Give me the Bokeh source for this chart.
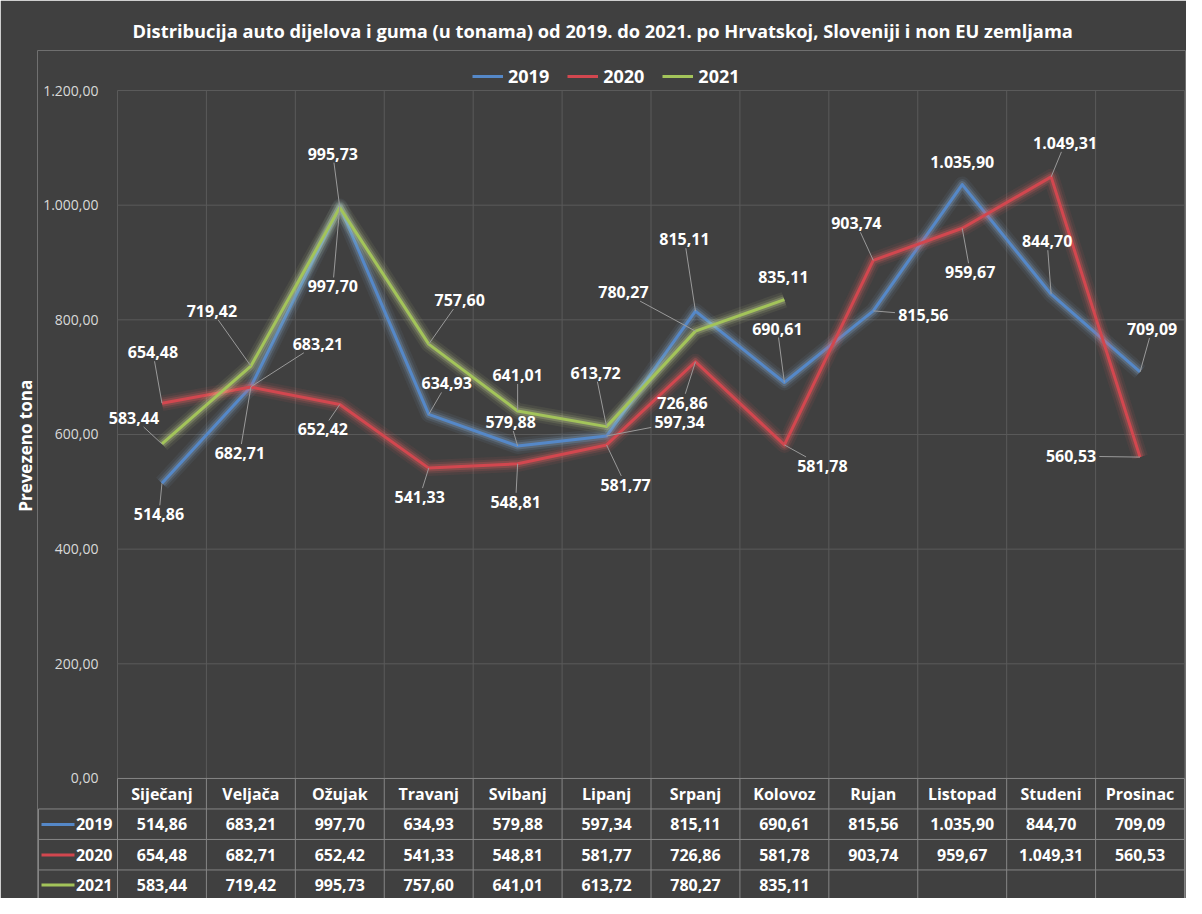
import math
from bokeh.plotting import figure
from bokeh.models import ColumnDataSource, Range1d, FixedTicker, Legend, LegendItem
from bokeh.core.properties import value
from bokeh.embed import file_html
from bokeh.resources import INLINE

# ---------------- data ----------------
months = ["Siječanj", "Veljača", "Ožujak", "Travanj", "Svibanj", "Lipanj",
          "Srpanj", "Kolovoz", "Rujan", "Listopad", "Studeni", "Prosinac"]
series_names = ["2019", "2020", "2021"]
v2019 = [514.86, 683.21, 997.70, 634.93, 579.88, 597.34, 815.11, 690.61, 815.56, 1035.90, 844.70, 709.09]
v2020 = [654.48, 682.71, 652.42, 541.33, 548.81, 581.77, 726.86, 581.78, 903.74, 959.67, 1049.31, 560.53]
v2021 = [583.44, 719.42, 995.73, 757.60, 641.01, 613.72, 780.27, 835.11]
y_ticks = [0, 200, 400, 600, 800, 1000, 1200]

title_text = ("Distribucija auto dijelova i guma (u tonama) od 2019. do 2021. "
              "po Hrvatskoj, Sloveniji i non EU zemljama")
y_title = "Prevezeno tona"

# ---------------- label placement (screen px offsets from the point: right, down) ----------------
off2019 = [(-3, 31), (67, -43), (-7, 80), (18, -31), (-7, -24), (73, -14),
           (-11, -72), (-7, -54), (50, 4), (0, -23), (-4, -53), (12, -43)]
off2020 = [(-9, -51), (-11, 66), (-17, 25), (-9, 29), (-2, 38), (19, 40),
           (-13, 41), (38, 21), (-17, -37), (8, 44), (14, -34), (-69, -1)]
off2021 = [(-28, -26), (-39, -55), (-7, -54), (31, -44), (0, -36), (-11, -54),
           (-72, -39), (-1, -23)]

# ---------------- styles ----------------
BG = "#404040"
GRID = "#5a5a5a"
TABLE_LINE = "#858585"
LEADER = "#9a9a9a"
TXT = "#ffffff"
FONT = "Open Sans"
line_colors = ["#5588C8", "#D2474F", "#A3C45A"]
glow_colors = ["#8EB4E3", "#FF5F5F", "#DCEB9A"]

# ---------------- geometry ----------------
W, H = 1186, 898
B_L, B_R, B_T, B_B = 37, 1, 50, 0
FRAME_W = W - B_L - B_R
FRAME_H = H - B_T - B_B
TOP_PAD_PX = 40                      # frame top -> 1200 gridline (legend lives here)
LEFT_COL_PX = 80                     # frame left -> plot area left
X_PX = (FRAME_W - LEFT_COL_PX - 1) / len(months)
x_start = -0.5 - LEFT_COL_PX / X_PX
x_end = x_start + FRAME_W / X_PX
Y_PX = 0.5733
y_end = 1200 + TOP_PAD_PX / Y_PX
y_start = y_end - FRAME_H / Y_PX

ROW_EDGES_PX = [0, 30.5, 61, 91.5]
HEADER_TXT_PX = 15.5
ROW_TXT_PX = [46, 76.5, 106.5]
LEFT_BORDER_PX = -79
LEG_X0_PX, LEG_X1_PX, LEG_TXT_PX = -76, -43, -5
YTITLE_SHIFT_SPACES = 13             # no-break spaces that lift the axis title off the frame centre
LEGEND_H = 26
LEGEND_TOP_PX = 13                   # legend top below frame top


def fmt(v):
    s = f"{v:,.2f}"
    return s.replace(",", "X").replace(".", ",").replace("X", ".")


def text_w(s):
    return sum(9.2 if c.isdigit() else 4.6 for c in s)


p = figure(width=W, height=H, x_range=Range1d(x_start, x_end), y_range=Range1d(y_start, y_end),
           output_backend="svg", toolbar_location=None, x_axis_location=None,
           min_border_left=B_L, min_border_right=B_R, min_border_top=B_T, min_border_bottom=B_B,
           background_fill_color=BG, border_fill_color=BG, outline_line_color=None)
for g in p.grid:
    g.visible = False

n = len(months)
edges = [k - 0.5 for k in range(n + 1)]

# plot gridlines
p.segment(x0=edges, x1=edges, y0=[0] * len(edges), y1=[1200] * len(edges), line_color=GRID, line_width=1)
p.segment(x0=[-0.5] * (len(y_ticks) - 1), x1=[n - 0.5] * (len(y_ticks) - 1),
          y0=y_ticks[1:], y1=y_ticks[1:], line_color=GRID, line_width=1)

# data table lines
row_y = [-r / Y_PX for r in ROW_EDGES_PX]
left_x = -0.5 + LEFT_BORDER_PX / X_PX
p.segment(x0=edges, x1=edges, y0=[0] * len(edges), y1=[y_start] * len(edges),
          line_color=TABLE_LINE, line_width=1)
p.segment(x0=[left_x], x1=[left_x], y0=[row_y[1]], y1=[y_start], line_color=TABLE_LINE, line_width=1)
p.segment(x0=[-0.5] + [left_x] * 3, x1=[n - 0.5] * 4, y0=row_y, y1=row_y,
          line_color=TABLE_LINE, line_width=1)

# lines with glow
all_vals = [v2019, v2020, v2021]
all_offs = [off2019, off2020, off2021]
main_renderers = []
for vals, lc, gc in zip(all_vals, line_colors, glow_colors):
    xs = list(range(len(vals)))
    p.line(xs, vals, line_color=gc, line_width=16, line_alpha=0.07, line_join="round")
    p.line(xs, vals, line_color=gc, line_width=11, line_alpha=0.12, line_join="round")
    p.line(xs, vals, line_color=gc, line_width=7, line_alpha=0.22, line_join="round")
    r = p.line(xs, vals, line_color=lc, line_width=3, line_join="round")
    main_renderers.append(r)

# leader lines + data labels
lx0, ly0, lx1, ly1 = [], [], [], []
lab = dict(x=[], y=[], text=[], dx=[], dy=[])
for vals, offs in zip(all_vals, all_offs):
    for i, (v, (dx, dy)) in enumerate(zip(vals, offs)):
        t = fmt(v)
        lab["x"].append(i); lab["y"].append(v); lab["text"].append(t)
        lab["dx"].append(dx); lab["dy"].append(dy)
        hw, hh = text_w(t) / 2 + 3, 9
        if abs(dx) <= hw and abs(dy) <= hh:
            continue
        sx = hw / abs(dx) if dx else math.inf
        sy = hh / abs(dy) if dy else math.inf
        s = min(sx, sy)
        ex, ey = dx * (1 - s), dy * (1 - s)
        if math.hypot(ex, ey) < 15:
            continue
        lx0.append(i); ly0.append(v)
        lx1.append(i + ex / X_PX); ly1.append(v - ey / Y_PX)
p.segment(x0=lx0, y0=ly0, x1=lx1, y1=ly1, line_color=LEADER, line_width=1)
p.text(x="x", y="y", text="text", x_offset="dx", y_offset="dy", source=ColumnDataSource(lab),
       text_align="center", text_baseline="middle", text_color=TXT,
       text_font=value(FONT), text_font_size="16px", text_font_style="bold")

# table header (months)
p.text(x=list(range(n)), y=[-HEADER_TXT_PX / Y_PX] * n, text=months,
       text_align="center", text_baseline="middle", text_color=TXT,
       text_font=value(FONT), text_font_size="16px", text_font_style="bold")
# table values
for k, vals in enumerate(all_vals):
    yy = -ROW_TXT_PX[k] / Y_PX
    p.text(x=list(range(len(vals))), y=[yy] * len(vals), text=[fmt(v) for v in vals],
           text_align="center", text_baseline="middle", text_color=TXT,
           text_font=value(FONT), text_font_size="16px", text_font_style="bold")
    p.segment(x0=[-0.5 + LEG_X0_PX / X_PX], x1=[-0.5 + LEG_X1_PX / X_PX], y0=[yy], y1=[yy],
              line_color=line_colors[k], line_width=3)
    p.text(x=[-0.5 + LEG_TXT_PX / X_PX], y=[yy], text=[series_names[k]],
           text_align="right", text_baseline="middle", text_color=TXT,
           text_font=value(FONT), text_font_size="16px", text_font_style="bold")

# y axis
ax = p.yaxis[0]
ax.ticker = FixedTicker(ticks=y_ticks)
ax.major_label_overrides = {t: fmt(t) for t in y_ticks}
ax.axis_line_color = None
ax.major_tick_line_color = None
ax.minor_tick_line_color = None
ax.major_tick_out = 0
ax.major_tick_in = 0
ax.major_label_standoff = -61
ax.major_label_text_font = FONT
ax.major_label_text_font_size = "14px"
ax.major_label_text_color = "#d9d9d9"
ax.axis_label = "\u00a0" * YTITLE_SHIFT_SPACES + y_title
ax.axis_label_text_font = FONT
ax.axis_label_text_font_size = "17px"
ax.axis_label_text_font_style = "bold"
ax.axis_label_text_color = TXT
ax.axis_label_standoff = 3

# title
p.title.text = title_text
p.title.align = "left"
p.title.offset = 95
p.title.text_font = FONT
p.title.text_font_size = "18.3px"
p.title.text_font_style = "bold"
p.title.text_color = TXT
p.title.standoff = 16

# legend (inside the frame, in the band above the 1200 gridline)
legend = Legend(items=[LegendItem(label=nm, renderers=[r]) for nm, r in zip(series_names, main_renderers)],
                location=(435, FRAME_H - LEGEND_TOP_PX - LEGEND_H), orientation="horizontal",
                label_text_color=TXT, label_text_font=FONT, label_text_font_size="18px",
                label_text_font_style="bold", glyph_width=31, glyph_height=LEGEND_H, label_height=LEGEND_H,
                label_standoff=5, spacing=18, padding=0, margin=0,
                border_line_color=None, background_fill_alpha=0)
p.add_layout(legend)

open("out.html", "w").write(file_html(p, INLINE))
